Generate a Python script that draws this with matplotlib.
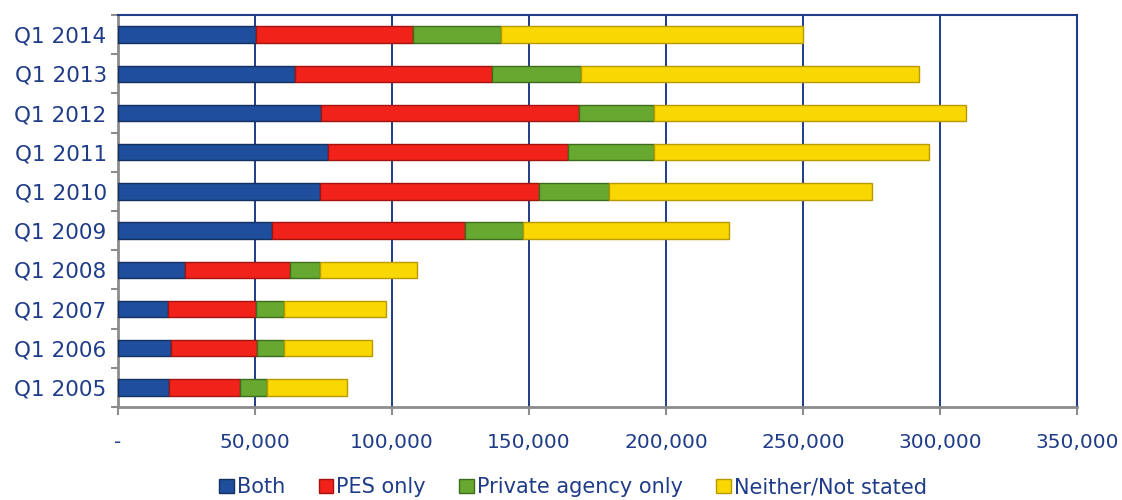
import numpy as np
import matplotlib.pyplot as plt
from matplotlib.ticker import FuncFormatter, FixedLocator

# data
quarters = ['Q1 2005', 'Q1 2006', 'Q1 2007', 'Q1 2008', 'Q1 2009',
            'Q1 2010', 'Q1 2011', 'Q1 2012', 'Q1 2013', 'Q1 2014']
both = [18500, 19300, 18200, 24400, 56300, 73700, 76800, 74200, 64700, 50400]
pes_only = [25900, 31500, 32400, 38400, 70200, 80100, 87400, 94200, 72000, 57300]
private_only = [10100, 10000, 10100, 10800, 21400, 25400, 31400, 27200, 32300, 32000]
neither = [29000, 32100, 37300, 35700, 75100, 96100, 100400, 113900, 123200, 110200]

series_names = ['Both', 'PES only', 'Private agency only', 'Neither/Not stated']
colors = ['#1F4E9C', '#F0221A', '#66A830', '#F8D800']
edges = ['#13305F', '#A31410', '#3F6B1C', '#B89A00']

navy = '#1F3C88'
grey = '#8C8C8C'

fig = plt.figure(figsize=(11.22, 5), dpi=100)
ax = fig.add_axes([0.105, 0.186, 0.855, 0.784])

y = np.arange(len(quarters))
left = np.zeros(len(quarters))
for vals, name, c, ec in zip([both, pes_only, private_only, neither], series_names, colors, edges):
    ax.barh(y, vals, left=left, height=0.42, color=c, edgecolor=ec, linewidth=1.0,
            label=name, zorder=3)
    left += np.array(vals)

ax.set_xlim(0, 350000)
ax.set_ylim(-0.5, len(quarters) - 0.5)
ax.set_xticks(np.arange(0, 350001, 50000))
ax.xaxis.set_major_formatter(FuncFormatter(lambda v, p: '-' if v == 0 else f'{int(v):,}'))
ax.set_yticks(y)
ax.set_yticklabels(quarters)
ax.yaxis.set_minor_locator(FixedLocator(np.arange(-0.5, len(quarters), 1.0)))

ax.grid(axis='x', color=navy, linewidth=1.4, zorder=0)
ax.tick_params(axis='y', which='major', length=0, labelsize=15.5, labelcolor=navy, pad=8)
ax.tick_params(axis='y', which='minor', length=5, color=grey, width=1.5)
ax.tick_params(axis='x', length=6, color=grey, width=1.5, labelsize=14.5, labelcolor=navy, pad=13)

ax.spines['left'].set_color(grey)
ax.spines['bottom'].set_color(grey)
ax.spines['left'].set_linewidth(2)
ax.spines['bottom'].set_linewidth(2)
ax.spines['top'].set_color(navy)
ax.spines['right'].set_color(navy)
ax.spines['top'].set_linewidth(1.5)
ax.spines['right'].set_linewidth(1.5)

leg = fig.legend(loc='lower center', bbox_to_anchor=(0.511, -0.032), ncol=4, frameon=False,
                 fontsize=15, handlelength=0.7, handleheight=0.7, handletextpad=0.15,
                 columnspacing=1.6)
for t in leg.get_texts():
    t.set_color(navy)

fig.savefig('out.png', dpi=100)
